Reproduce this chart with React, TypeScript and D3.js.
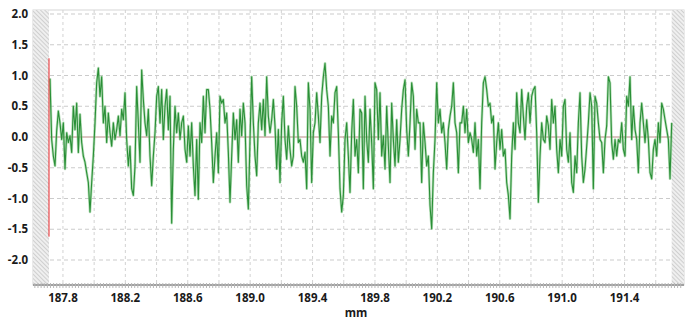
import * as d3 from "d3";
import { useEffect, useRef } from "react";

// profile samples (mm) left to right
const seg1 = [
  0.95, -0.04, -0.31, -0.47, 0.1, 0.42, 0.23, -0.04, 0.23, -0.52, 0.07, -0.09,
  0.02, -0.25, 0.5, 0.12, 0.55, -0.25, 0.37, -0.09, -0.31, -0.41, -0.58, -0.74,
  -1.22, -0.74, -0.31, 0.23, 0.88, 1.12, 0.66, 0.98, 0.23, 0.5, -0.09, 0.39,
  0.07, -0.15, 0.23, -0.04, 0.12, 0.34, 0.02, 0.45, 0.28, 0.72, -0.04, -0.47,
  -0.15, -0.84, -0.95, -0.47, 0.82, 0.23, -0.41, 1.09, 0.61, 0.23, 0.02, 0.45,
  -0.31, -0.79, -0.31, 0.07, 0.66, 0.82, 0.23, 0.77, -0.04, 0.5, 0.77, 0.12,
];
const seg2 = [
  0.66, -1.4, -0.2, 0.5, 0.07, 0.39, -0.04, 0.23, 0.34, -0.2, -0.41, 0.18,
  -0.31, 0.23, -0.47, -0.95, -0.04, -1.01, 0.23, -0.09, 0.66, 0.07, 0.77, 0.77,
  0.45, -0.09, -0.74, -0.31, 0.07, -0.58, 0.66, 0.55, 0.61, 0.23, 0.39, -0.25,
  -1.06, -0.31, 0.39, -0.04, 0.28, -0.41, 0.45, 0.02, 0.55, 0.23, -0.79, -1.17,
  -0.04, 0.98, 0.23, -0.31, -0.63, 0.23, 0.55, 0.12, 0.61, 0.02, 0.98, 0.34,
  0.07, 0.28, 0.61, 0.18, -0.52, 0.12, -0.74, 0.23, 0.66, -0.04, -0.36, 0.18,
  -0.2, -0.47, -0.31,
];
const seg3 = [
  0.82, 0.5, -0.09, -0.04, -0.31, -0.41, -0.25, -0.84, 0.88, 0.45, -0.74, 0.07,
  0.23, 0.72, 0.34, -0.09, 0.66, 0.98, 1.2, 0.77, 0.5, -0.31, 0.34, 0.23, 0.72,
  0.82, 0.07, -0.84, -1.22, -0.95, -0.04, 0.23, -0.31, -0.9, 0.07, 0.61, -0.31,
  -0.04, -0.58, 0.45, 0.39, -0.84, 0.66, -0.04, -0.41, 0.45, -0.09, -0.84, 0.88,
  0.77, -0.04, 0.72, -0.31, 0.02, -0.52, 0.5, -0.15, -0.74, 0.55, -0.04, -0.47,
  0.28, -0.41, -0.04, 0.45, 0.77, 0.93, 0.12, -0.31, 0.23, 0.88, 0.66, -0.2,
  0.45, 0.23,
];
const seg4 = [
  0.23, -0.74, 0.23, -0.09, -0.47, -0.31, -1.11, -1.49, -0.58, -0.04, 0.88, 0.23,
  0.45, 0.07, 0.23, -0.09, -0.52, 0.12, 0.34, 0.5, 0.88, 0.23, 0.07, -0.58, 0.23,
  0.23, 0.5, 0.07, 0.45, -0.09, 0.07, -0.04, -0.25, 0.23, -0.31, -0.04, -0.84,
  0.23, 0.88, 0.98, 0.77, 0.5, 0.55, 0.23, 0.34, -0.52, -0.09, 0.23, -0.2, 0.12,
  -0.31, -0.2, -0.74, -0.95, -1.33, -0.31, 0.23, -0.2, 0.72, 0.23, 0.07, 0.77,
  0.34, -0.04, 0.5, 0.72, 0.23, 0.66, 0.77, 0.82, 0.07, -1.06, -0.31, 0.23, -0.04,
];
const seg5 = [
  -0.09, 0.34, 0.18, -0.2, 0.61, 0.23, 0.5, -0.2, -0.58, -0.04, -0.31, 0.5, 0.61,
  -0.2, -0.41, 0.07, -0.74, -0.9, -0.31, -0.58, 0.23, 0.72, -0.31, -0.74, -0.52,
  -0.15, 0.23, 0.72, 0.5, -0.84, 0.66, 0.55, 0.23, -0.04, -0.09, -0.58, -0.04,
  0.18, 0.98, 0.88, -0.09, -0.36, -0.04, -0.31, -0.04, -0.09, 0.23, -0.2, -0.31,
  0.66, 0.5, 0.98, -0.04, 0.5, 0.12, -0.04, -0.58, 0.23, 0.55, 0.23, -0.09, 0.28,
  -0.04, -0.58, -0.68, -0.2, -0.04, -0.31, 0.23, -0.09, 0.55, 0.45, 0.28, 0.12,
  -0.04, -0.68, 0.23,
];

const profileStart = 187.717; // mm, first sample
const profileStep = 0.010684; // mm between samples
const redMarker = [1.28, -1.62]; // start marker extent
const yTicks = [2.0, 1.5, 1.0, 0.5, 0.0, -0.5, -1.0, -1.5, -2.0];
const xTicks = [187.8, 188.2, 188.6, 189.0, 189.4, 189.8, 190.2, 190.6, 191.0, 191.4];
const xLabel = "mm";

const W = 685;
const H = 320;
const left = 33;
const right = 684;
const top = 10;
const bottom = 285;

function drawChart(el: SVGSVGElement) {
  const values = [...seg1, ...seg2, ...seg3, ...seg4, ...seg5];
  const profile = values.map((v, i) => ({ x: profileStart + i * profileStep, y: v }));
  const xEnd = profile[profile.length - 1].x;

  const x = d3.scaleLinear().domain([187.608, 191.781]).range([left, right]);
  const y = d3.scaleLinear().domain([-2.0, 2.0]).range([260, 14]);

  const svg = d3.select(el).attr("width", W).attr("height", H);
  svg.selectAll("*").remove();

  const defs = svg.append("defs");
  const pat = defs
    .append("pattern")
    .attr("id", "hatch")
    .attr("patternUnits", "userSpaceOnUse")
    .attr("width", 3)
    .attr("height", 3)
    .attr("patternTransform", "rotate(-45)");
  pat.append("rect").attr("width", 3).attr("height", 3).attr("fill", "#efefef");
  pat
    .append("line")
    .attr("x1", 0)
    .attr("y1", 0)
    .attr("x2", 0)
    .attr("y2", 3)
    .attr("stroke", "#b0b0b0")
    .attr("stroke-width", 1);

  // frame
  svg
    .append("rect")
    .attr("x", left)
    .attr("y", top)
    .attr("width", right - left)
    .attr("height", bottom - top)
    .attr("fill", "#fff")
    .attr("stroke", "#d6d6d6");

  // hatched areas outside measured range
  svg
    .append("rect")
    .attr("x", left)
    .attr("y", top)
    .attr("width", x(profileStart) - left - 1)
    .attr("height", bottom - top)
    .attr("fill", "url(#hatch)");
  svg
    .append("rect")
    .attr("x", x(xEnd))
    .attr("y", top)
    .attr("width", right - x(xEnd))
    .attr("height", bottom - top)
    .attr("fill", "url(#hatch)");

  // grid
  const gridX = d3.range(187.8, 191.7, 0.2);
  svg
    .append("g")
    .selectAll("line")
    .data(gridX)
    .enter()
    .append("line")
    .attr("x1", (d) => x(d))
    .attr("x2", (d) => x(d))
    .attr("y1", top)
    .attr("y2", bottom)
    .attr("stroke", "#d2d2d2")
    .attr("stroke-dasharray", "3,3");
  svg
    .append("g")
    .selectAll("line")
    .data(yTicks.filter((d) => d !== 0))
    .enter()
    .append("line")
    .attr("x1", x(profileStart))
    .attr("x2", x(xEnd))
    .attr("y1", (d) => y(d))
    .attr("y2", (d) => y(d))
    .attr("stroke", "#cbcbcb")
    .attr("stroke-dasharray", "4,3");
  svg
    .append("line")
    .attr("x1", x(profileStart))
    .attr("x2", x(xEnd))
    .attr("y1", y(0))
    .attr("y2", y(0))
    .attr("stroke", "#b98a86")
    .attr("stroke-width", 1);

  // profile trace: soft halo under a darker core
  const line = d3
    .line<{ x: number; y: number }>()
    .x((d) => x(d.x))
    .y((d) => y(d.y));
  svg
    .append("path")
    .datum(profile)
    .attr("fill", "none")
    .attr("stroke", "#7cc47f")
    .attr("stroke-opacity", 0.55)
    .attr("stroke-width", 2.6)
    .attr("stroke-linejoin", "round")
    .attr("d", line);
  svg
    .append("path")
    .datum(profile)
    .attr("fill", "none")
    .attr("stroke", "#2a8f37")
    .attr("stroke-width", 1.1)
    .attr("stroke-linejoin", "round")
    .attr("d", line);

  svg
    .append("line")
    .attr("x1", x(profileStart) - 1)
    .attr("x2", x(profileStart) - 1)
    .attr("y1", y(redMarker[0]))
    .attr("y2", y(redMarker[1]))
    .attr("stroke", "#e8262a")
    .attr("stroke-width", 1);

  // bottom axis
  svg
    .append("line")
    .attr("x1", left)
    .attr("x2", right)
    .attr("y1", bottom)
    .attr("y2", bottom)
    .attr("stroke", "#a0a0a0")
    .attr("stroke-width", 2);
  svg
    .append("g")
    .selectAll("line")
    .data(d3.range(187.62, 191.78, 0.02))
    .enter()
    .append("line")
    .attr("x1", (d) => x(d))
    .attr("x2", (d) => x(d))
    .attr("y1", bottom - 2)
    .attr("y2", bottom + 3)
    .attr("stroke", "#b8b8b8");

  svg
    .append("g")
    .selectAll("text")
    .data(xTicks)
    .enter()
    .append("text")
    .attr("x", (d) => x(d))
    .attr("y", 302)
    .attr("text-anchor", "middle")
    .text((d) => d.toFixed(1));

  svg
    .append("g")
    .selectAll("text")
    .data(yTicks)
    .enter()
    .append("text")
    .attr("x", 28)
    .attr("y", (d) => y(d) + 4)
    .attr("text-anchor", "end")
    .text((d) => d.toFixed(1));

  svg
    .append("text")
    .attr("x", 356)
    .attr("y", 317)
    .attr("text-anchor", "middle")
    .text(xLabel);

  svg
    .selectAll("text")
    .attr("fill", "#1a1a1a")
    .style("font-family", "'Open Sans', sans-serif")
    .style("font-weight", "bold")
    .style("font-size", "11.5px");
}

export default function App() {
  const ref = useRef<SVGSVGElement>(null);
  useEffect(() => {
    if (ref.current) drawChart(ref.current);
  }, []);
  return (
    <svg
      ref={ref}
      style={{ position: "absolute", left: 0, top: 0, background: "#fff" }}
    ></svg>
  );
}
